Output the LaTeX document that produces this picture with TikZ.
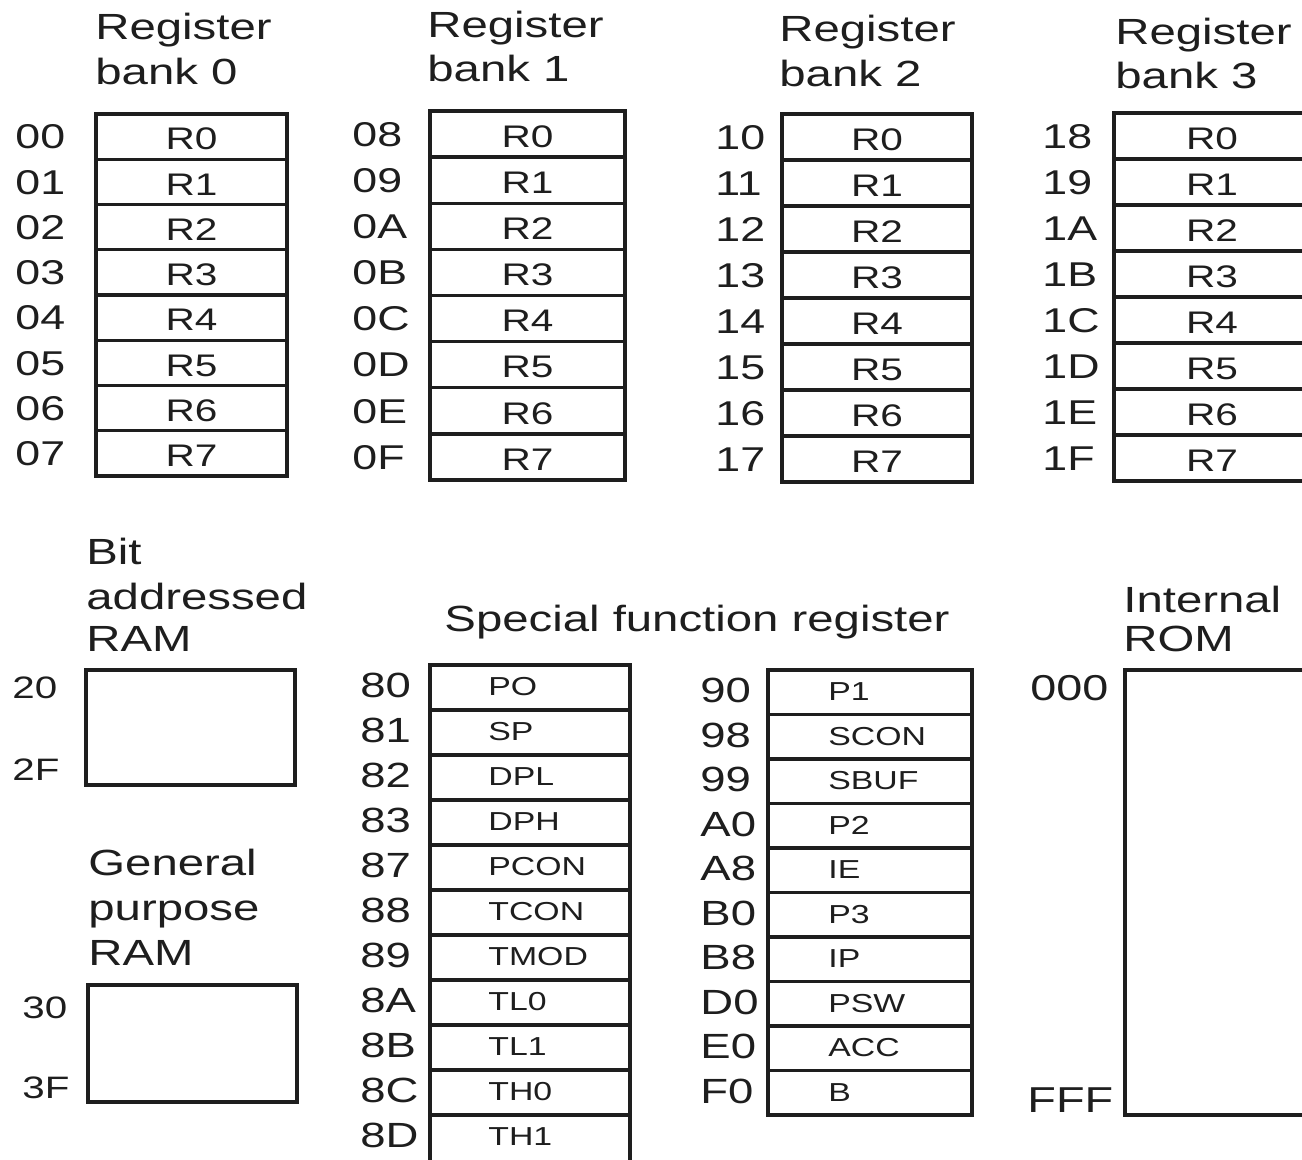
\documentclass[tikz,border=0pt]{standalone}
\usepackage{fontspec}
\setmainfont[FakeStretch=1.3]{Liberation Sans}
\begin{document}
\definecolor{ink}{HTML}{1E1E1E}
\tikzset{
  boxline/.style={draw=ink,line width=2pt},
  rowline/.style={draw=ink,line width=1.7pt},
  title/.style={anchor=base west,inner sep=0pt,text=ink,font=\fontsize{18.2}{21}\selectfont},
  addr/.style={anchor=mid west,inner sep=0pt,yshift=-3.5pt,text=ink,font=\fontsize{17.2}{20}\selectfont},
  reg/.style={anchor=mid,inner sep=0pt,yshift=-4pt,text=ink,font=\fontsize{15.6}{18}\selectfont},
  sfraddr/.style={anchor=mid west,inner sep=0pt,yshift=-2.5pt,text=ink,font=\fontsize{17.5}{20}\selectfont},
  sfrname/.style={anchor=mid west,inner sep=0pt,yshift=-1.5pt,text=ink,font=\fontsize{13}{15}\selectfont},
  ramaddr/.style={anchor=mid west,inner sep=0pt,yshift=-2.5pt,text=ink,font=\fontsize{15.5}{17}\selectfont},
  romaddr/.style={anchor=mid west,inner sep=0pt,yshift=-2.5pt,text=ink,font=\fontsize{18}{21}\selectfont}
}
\newcommand\RegBank[7]{%
  \draw[boxline] (#2,#4) rectangle (#3,#5);
  \foreach \a [count=\i from 0] in {#7} {
    \pgfmathsetmacro\yc{#4+(\i+0.5)*(#5-#4)/8}
    \pgfmathsetmacro\yl{#4+\i*(#5-#4)/8}
    \node[addr] (#1a\i) at (#6,\yc) {\a};
    \node[reg] (#1r\i) at ({(#2+#3)/2},\yc) {R\i};
    \ifnum\i>0 \draw[rowline] (#2,\yl) -- (#3,\yl);\fi
  }
}
\newcommand\SfrCol[7]{% id, xl, xr, yt, pitch, xa, xt ; entries in \sfrlist
  \foreach \a/\n [count=\i from 0] in \sfrlist {
    \pgfmathsetmacro\yc{#4+(\i+0.5)*#5}
    \pgfmathsetmacro\yl{#4+\i*#5}
    \node[sfraddr] (#1a\i) at (#6,\yc) {\a};
    \node[sfrname] (#1n\i) at (#7,\yc) {\n};
    \ifnum\i>0 \draw[rowline] (#2,\yl) -- (#3,\yl);\fi
  }
}
\begin{tikzpicture}[x=0.5pt,y=-0.5pt]
\useasboundingbox (0,0) rectangle (1302,1160);
\fill[white] (0,0) rectangle (1302,1160);

% titles of register banks
\node[title] (t0a) at (95,40) {Register};
\node[title] (t0b) at (95,85) {bank 0};
\node[title] (t1a) at (427,38) {Register};
\node[title] (t1b) at (427,82) {bank 1};
\node[title] (t2a) at (779,42) {Register};
\node[title] (t2b) at (779,87) {bank 2};
\node[title] (t3a) at (1115,45) {Register};
\node[title] (t3b) at (1115,89) {bank 3};

\RegBank{b0}{96}{287}{114}{476}{15}{00,01,02,03,04,05,06,07}
\RegBank{b1}{430}{625}{111}{480}{352}{08,09,0A,0B,0C,0D,0E,0F}
\RegBank{b2}{782}{972}{114}{482}{715}{10,11,12,13,14,15,16,17}
\RegBank{b3}{1114}{1310}{113}{481}{1042}{18,19,1A,1B,1C,1D,1E,1F}

% bit addressed RAM
\node[title] (bra) at (86,565) {Bit};
\node[title] (brb) at (86,610) {addressed};
\node[title] (brc) at (86,652) {RAM};
\draw[boxline] (86,670) rectangle (295,785);
\node[ramaddr] (ba0) at (12,688) {20};
\node[ramaddr] (ba1) at (12,770) {2F};

% general purpose RAM
\node[title] (gra) at (88,875) {General};
\node[title] (grb) at (88,920) {purpose};
\node[title] (grc) at (88,965) {RAM};
\draw[boxline] (88,985) rectangle (297,1102);
\node[ramaddr] (ga0) at (22,1008) {30};
\node[ramaddr] (ga1) at (22,1088) {3F};

% special function registers
\node[title,anchor=base] (sfrt) at (697,632) {Special function register};
\draw[boxline] (630,1170) -- (630,665) -- (430,665) -- (430,1170);
\def\sfrlist{80/PO,81/SP,82/DPL,83/DPH,87/PCON,88/TCON,89/TMOD,8A/TL0,8B/TL1,8C/TH0,8D/TH1}
\SfrCol{s1}{430}{630}{665}{45}{360}{488}
\draw[boxline] (768,670) rectangle (972,1115);
\def\sfrlist{90/P1,98/SCON,99/SBUF,A0/P2,A8/IE,B0/P3,B8/IP,D0/PSW,E0/ACC,F0/B}
\SfrCol{s2}{768}{972}{670}{44.5}{700}{828}

% internal ROM
\node[title] (roma) at (1123,612) {Internal};
\node[title] (romb) at (1123,652) {ROM};
\draw[boxline] (1330,670) -- (1125,670) -- (1125,1115) -- (1330,1115);
\node[romaddr] (ra0) at (1030,690) {000};
\node[romaddr] (ra1) at (1027,1102) {FFF};
\end{tikzpicture}
\end{document}
